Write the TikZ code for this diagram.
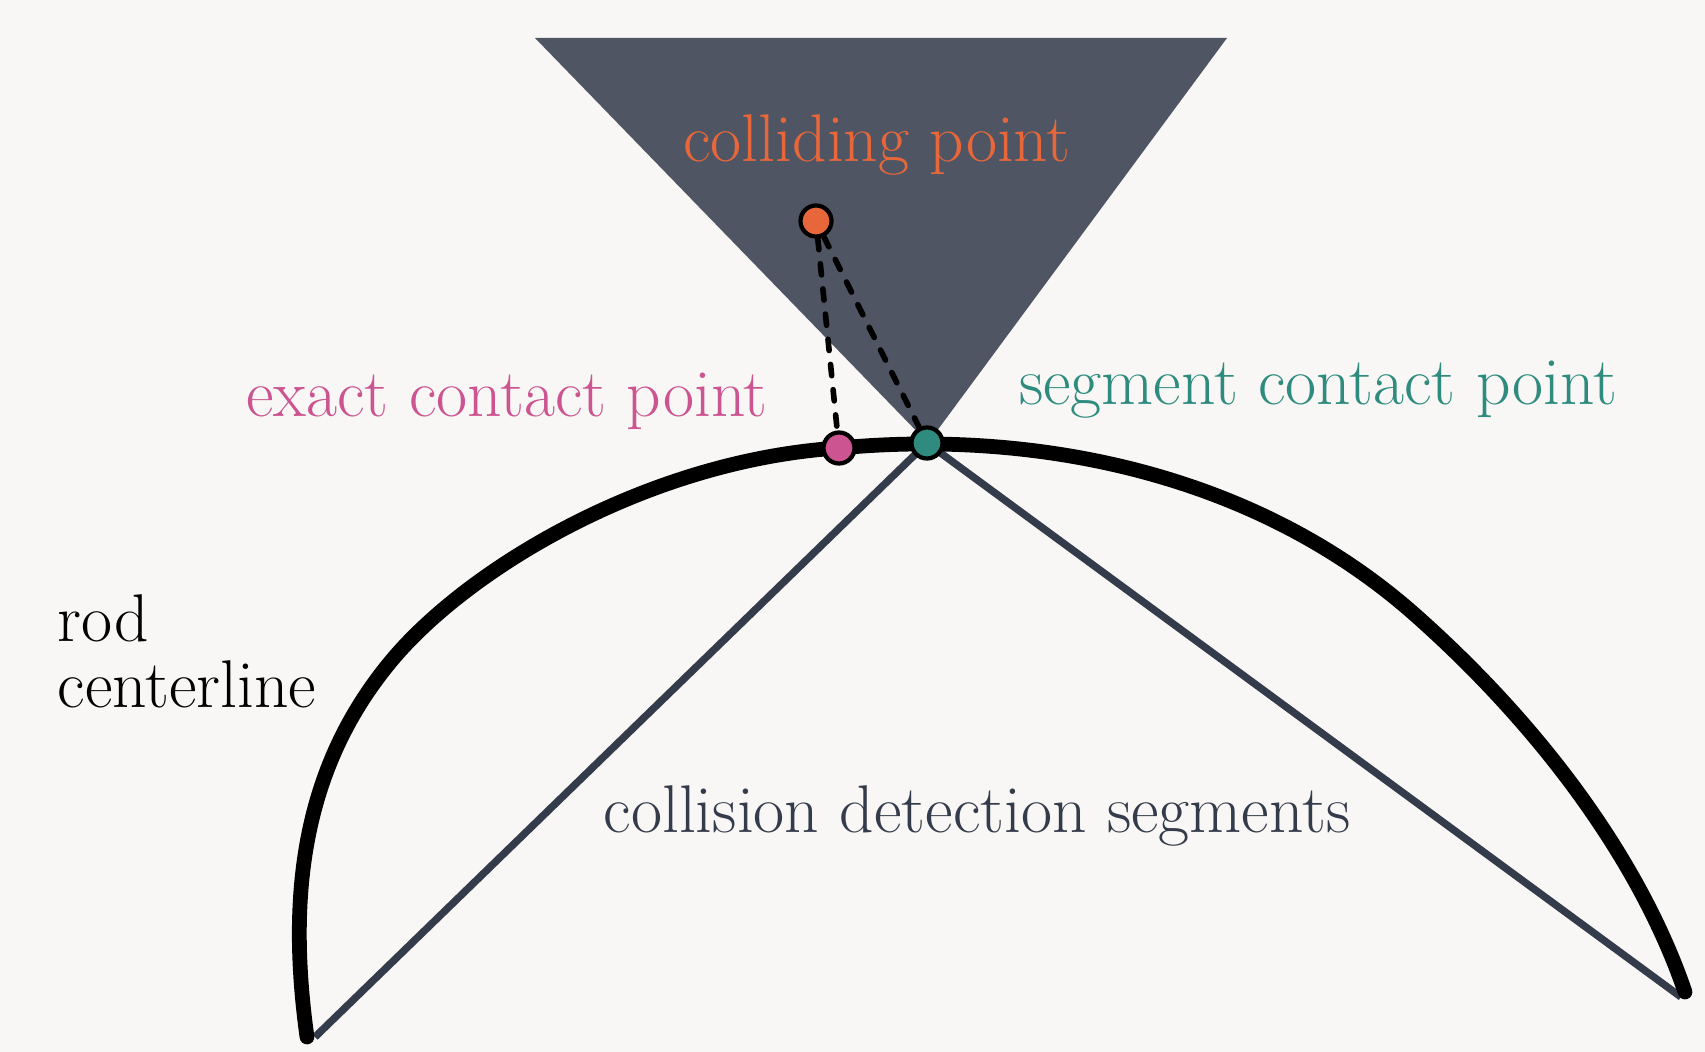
\documentclass[tikz,border=0pt]{standalone}
\definecolor{bgcol}{HTML}{F8F7F5}
\definecolor{obstcol}{HTML}{4F5563}
\definecolor{segcol}{HTML}{343B4A}
\definecolor{colcol}{HTML}{E8673A}
\definecolor{ecpcol}{HTML}{CC5490}
\definecolor{scpcol}{HTML}{2E8B7E}

\begin{document}
\begin{tikzpicture}[x=0.01cm, y=-0.01cm]
    \tikzset{
      txt/.style = {font=\fontsize{19.2}{23}\selectfont, inner sep=0pt},
      dot/.style = {circle, draw=black, line width=1.2pt, minimum size=0.31cm, inner sep=0pt},
      seg/.style = {draw=segcol, line width=2.1pt},
      link/.style = {line width=1.6pt, dash pattern=on 3.2pt off 4pt, line cap=round}
    }
    % Background
    \fill[bgcol] (0,0) rectangle (1705,1052);
    \useasboundingbox (0,0) rectangle (1705,1052);

    % Obstacle
    \fill[obstcol] (535,38) -- (1227,38) -- (928,443) -- cycle;

    % Points on the rod
    \coordinate (ecp) at (839,448);
    \coordinate (scp) at (927,443);
    \coordinate (segl) at (315,1037);
    \coordinate (segr) at (1681,997);

    % Segments
    \draw[seg] (segl) -- (scp) -- (segr);

    % Rod
    \draw[line width=4.2pt, line cap=round]
      (307,1037) .. controls (288,900) and (300,770) .. (392,660)
      .. controls (470,567) and (650,460) .. (ecp)
      .. controls (1030,430) and (1250,470) .. (1413,613)
      .. controls (1540,725) and (1640,860) .. (1685,992);

    % Dots
    \node[dot, fill=colcol] (cp) at (816,221) {};
    \node[dot, fill=ecpcol] (ep) at (ecp) {};
    \node[dot, fill=scpcol] (sp) at (scp) {};

    % Distances
    \draw[link] (cp) -- (ep);
    \draw[link] (cp) -- (sp);

    % Labels
    \node[txt, text=colcol, anchor=base] (cpl) at (877,162) {colliding point};
    \node[txt, text=ecpcol, anchor=base] (epl) at (507,417) {exact contact point};
    \node[txt, text=scpcol, anchor=base] (spl) at (1318,405) {segment contact point};
    \node[txt, text=segcol, anchor=base] (segt) at (977,833) {collision detection segments};
    \node[txt, anchor=base west] (rod) at (57,642) {rod};
    \node[txt, anchor=base west] (cl) at (57,708) {centerline};
\end{tikzpicture}
\end{document}
